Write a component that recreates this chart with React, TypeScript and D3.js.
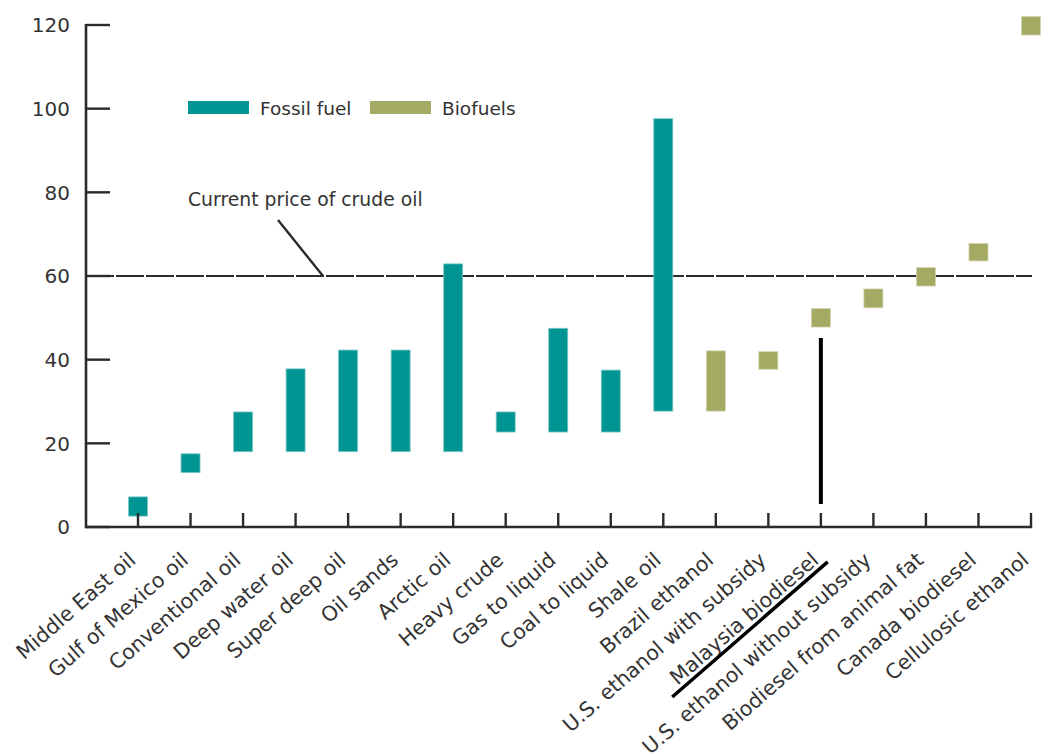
import React from "react";
import * as d3 from "d3";

const categories = [
  "Middle East oil", "Gulf of Mexico oil", "Conventional oil", "Deep water oil",
  "Super deep oil", "Oil sands", "Arctic oil", "Heavy crude", "Gas to liquid",
  "Coal to liquid", "Shale oil", "Brazil ethanol", "U.S. ethanol with subsidy",
  "Malaysia biodiesel", "U.S. ethanol without subsidy", "Biodiesel from animal fat",
  "Canada biodiesel", "Cellulosic ethanol",
];
const lowValues = [2.6, 13, 18, 18, 18, 18, 18, 22.7, 22.7, 22.7, 27.7, 27.7, 37.7, 47.8, 52.4, 57.6, 63.6, 117.6];
const highValues = [7.2, 17.5, 27.5, 37.8, 42.3, 42.3, 62.9, 27.5, 47.5, 37.5, 97.6, 42.1, 41.9, 52.2, 56.9, 62, 67.8, 122];
const fuelType = ["Fossil fuel", "Fossil fuel", "Fossil fuel", "Fossil fuel", "Fossil fuel", "Fossil fuel", "Fossil fuel", "Fossil fuel", "Fossil fuel", "Fossil fuel", "Fossil fuel", "Biofuels", "Biofuels", "Biofuels", "Biofuels", "Biofuels", "Biofuels", "Biofuels"];
const yTicks = [0, 20, 40, 60, 80, 100, 120];
const legendItems = ["Fossil fuel", "Biofuels"];
const crudePrice = 60;
const crudeLabel = "Current price of crude oil";
const highlightCategory = "Malaysia biodiesel";
const highlightRange = [5.5, 45.2];

const colors: Record<string, string> = { "Fossil fuel": "#009493", Biofuels: "#a4a963" };
const strokes: Record<string, string> = { "Fossil fuel": "#7cc9c7", Biofuels: "#d2d4ae" };

export default function App() {
  const W = 1042, H = 756;
  const axisX = 86;
  const y = d3.scaleLinear().domain([0, 120]).range([527, 25]);
  const x = d3.scalePoint<string>().domain(categories).range([138, 1031]);
  const barW = 19;
  const font = "'DejaVu Sans', Verdana, sans-serif";
  const textColor = "#333";
  const axisColor = "#2b2b2b";
  const labelY = 562;
  const angle = -41;
  const hx = x(highlightCategory)!;

  return (
    <svg width={W} height={H} style={{ position: "absolute", left: 0, top: 0, background: "#fff" }} fontFamily={font}>
      {/* crude price line */}
      <line x1={axisX} x2={x(categories[categories.length - 1])! + 1} y1={y(crudePrice)} y2={y(crudePrice)}
        stroke={axisColor} strokeWidth={2.2} strokeDasharray="28 2" />
      {/* bars */}
      {categories.map((c, i) => (
        <rect key={c} x={x(c)! - barW / 2} width={barW}
          y={y(highValues[i])} height={y(lowValues[i]) - y(highValues[i])}
          fill={colors[fuelType[i]]} stroke={strokes[fuelType[i]]} strokeWidth={0.8} />
      ))}
      {/* y axis */}
      <line x1={axisX} x2={axisX} y1={y(120) - 1} y2={y(0) + 1.2} stroke={axisColor} strokeWidth={2.6} />
      {yTicks.map((t) => (
        <g key={t}>
          <line x1={axisX} x2={110} y1={y(t)} y2={y(t)} stroke={axisColor} strokeWidth={2.4} />
          <text x={70} y={y(t)} dy="0.36em" textAnchor="end" fontSize={20} fill={textColor}>{t}</text>
        </g>
      ))}
      {/* x axis */}
      <line x1={axisX} x2={x(categories[categories.length - 1])! + 1.2} y1={y(0)} y2={y(0)} stroke={axisColor} strokeWidth={2.6} />
      {categories.map((c) => (
        <line key={c} x1={x(c)!} x2={x(c)!} y1={y(0)} y2={y(0) - 14} stroke={axisColor} strokeWidth={2.4} />
      ))}
      {/* x labels */}
      {categories.map((c) => (
        <g key={c} transform={`translate(${x(c)! - 1},${labelY}) rotate(${angle})`}>
          <text textAnchor="end" fontSize={20.6} fill={textColor}>{c}</text>
          {c === highlightCategory && (
            <line x1={-200} x2={6} y1={5} y2={5} stroke="#000" strokeWidth={3.5} />
          )}
        </g>
      ))}
      {/* highlight vertical line */}
      <line x1={hx} x2={hx} y1={y(highlightRange[0])} y2={y(highlightRange[1])} stroke="#000" strokeWidth={4} />
      {/* legend */}
      {legendItems.map((l, i) => {
        const lx = 188 + i * 182;
        return (
          <g key={l}>
            <rect x={lx} y={101} width={61} height={13} fill={colors[l]} />
            <text x={lx + 72} y={114.5} fontSize={18.5} fill={textColor}>{l}</text>
          </g>
        );
      })}
      {/* annotation */}
      <text x={188} y={206} fontSize={18.8} fill={textColor}>{crudeLabel}</text>
      <line x1={278} y1={220} x2={323} y2={y(crudePrice)} stroke={axisColor} strokeWidth={2.4} />
    </svg>
  );
}
